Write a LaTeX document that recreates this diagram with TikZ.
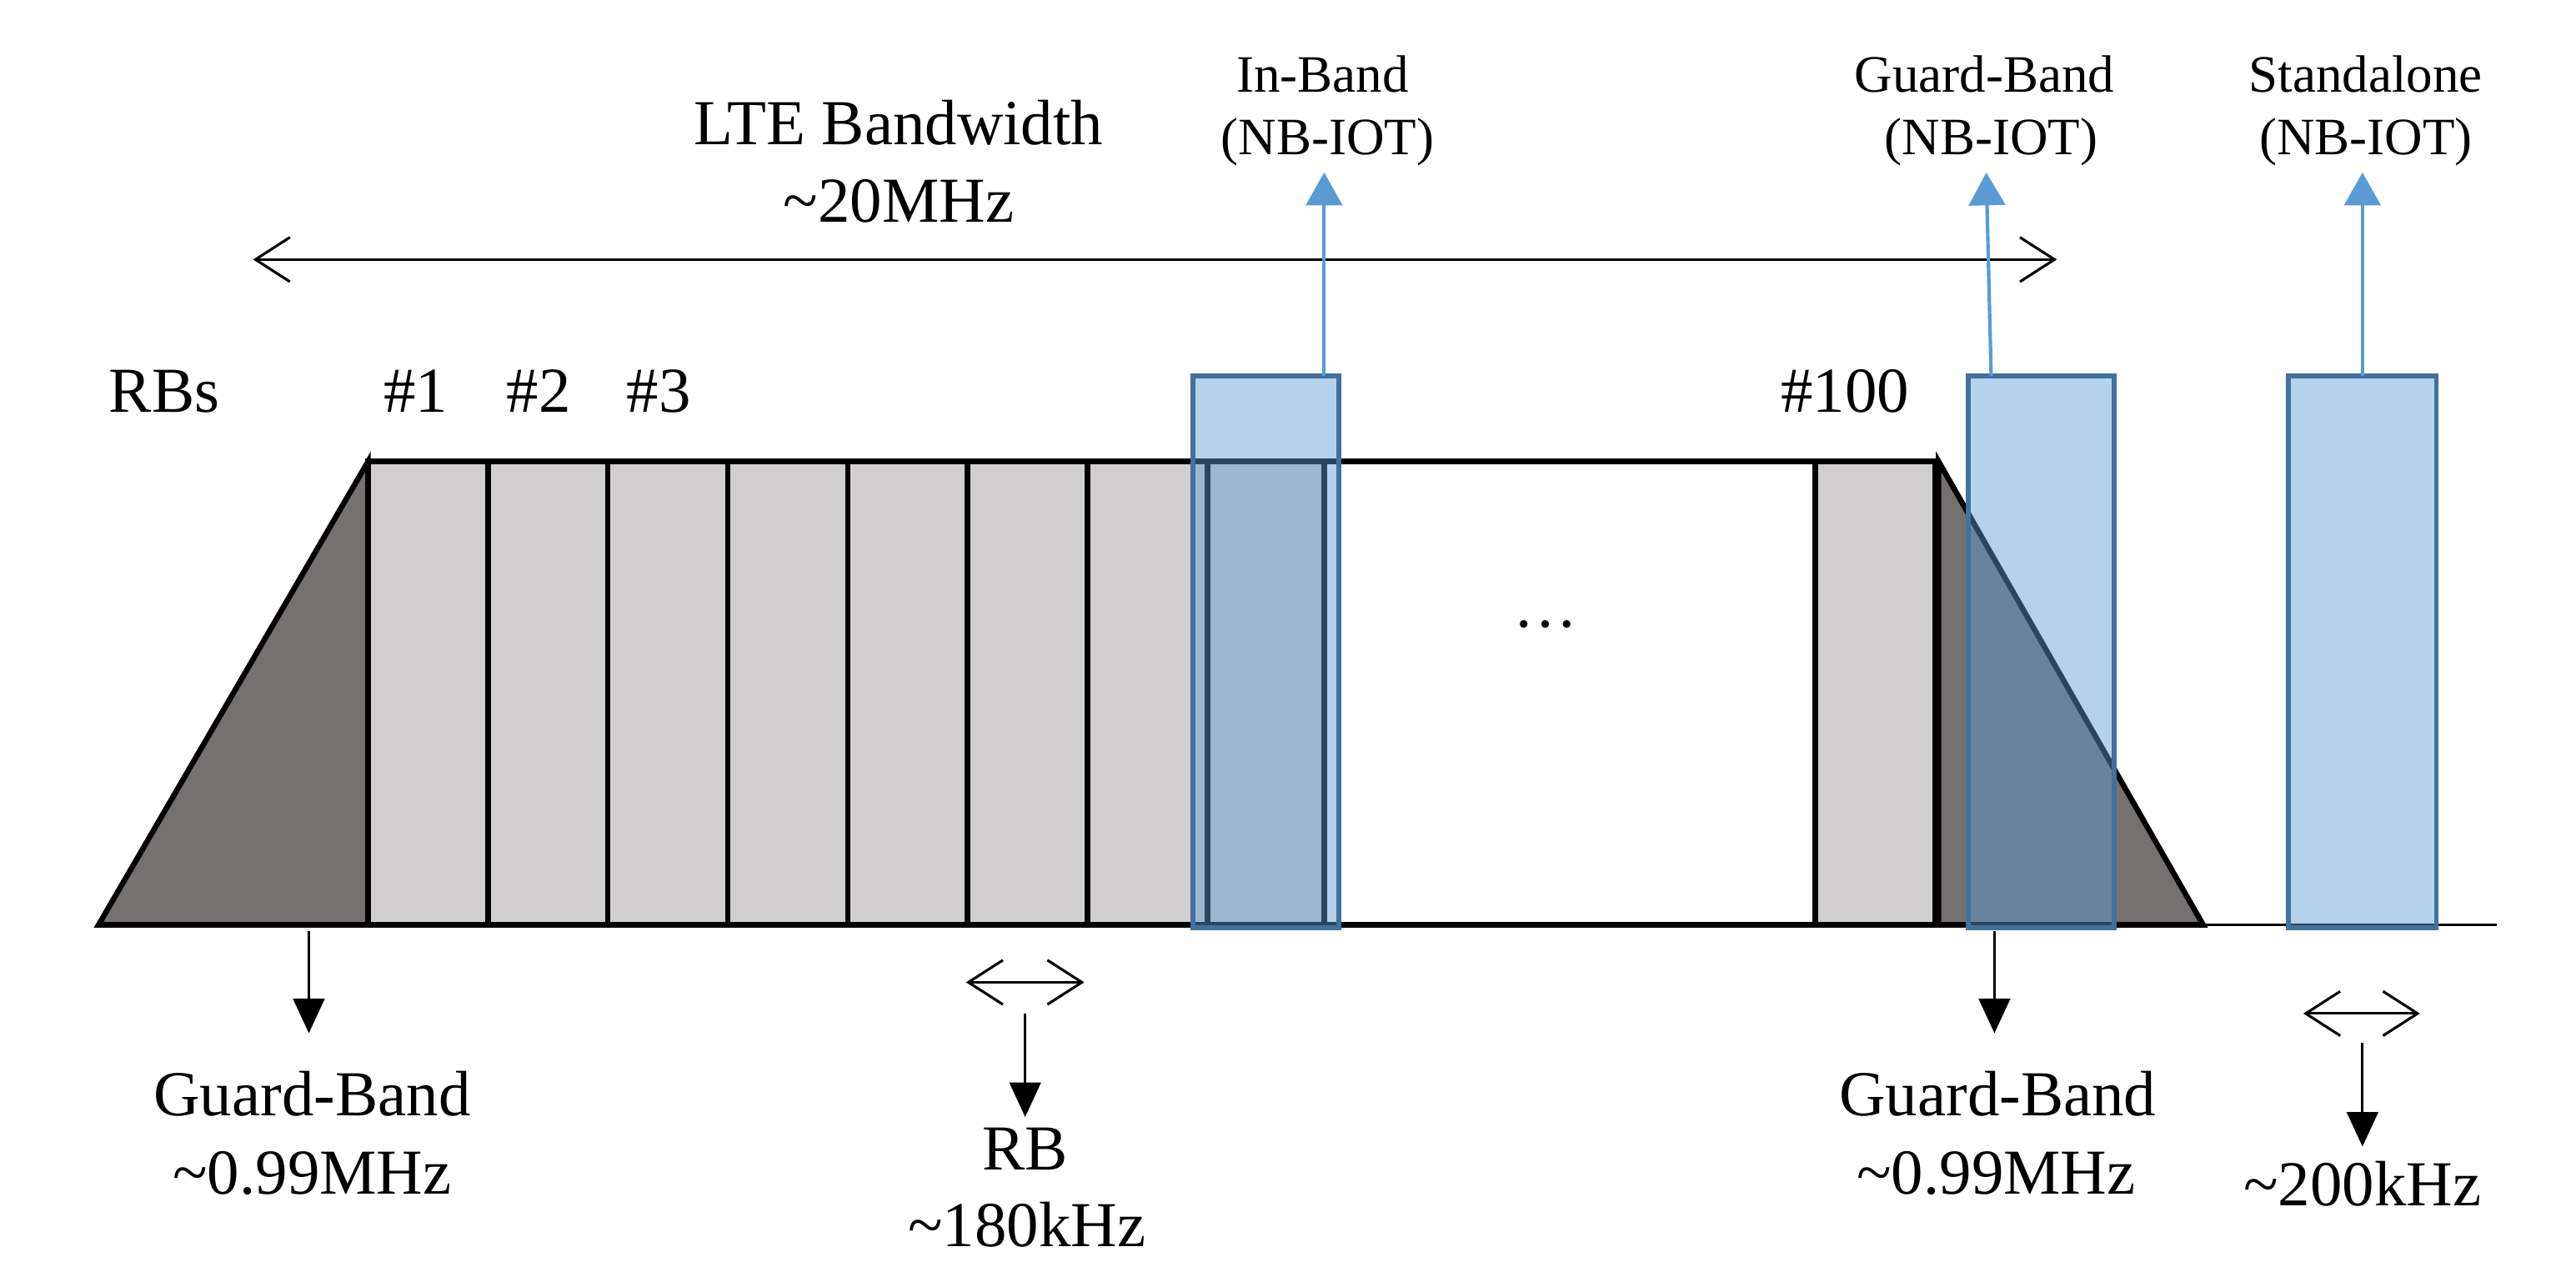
\documentclass[tikz,border=0pt]{standalone}
\usepackage{fontspec}
\setmainfont{Liberation Serif}
\usepackage{tikz}
\usetikzlibrary{arrows.meta}
\definecolor{rbgrey}{HTML}{D0CECE}
\definecolor{gbgrey}{HTML}{767171}
\definecolor{nbfill}{HTML}{5B9BD5}
\definecolor{nbline}{HTML}{41719C}

\begin{document}
\begin{tikzpicture}[x=1cm, y=1cm,
		big/.style={font=\fontsize{11.1}{13.3}\selectfont, inner sep=0pt, anchor=base},
		small/.style={font=\fontsize{9.1}{10.9}\selectfont, inner sep=0pt, anchor=base},
		rb/.style={draw, line width=0.95pt, fill=rbgrey},
		nb/.style={draw=nbline, line width=0.85pt, fill=nbfill, fill opacity=0.45},
		dblarr/.style={line width=0.45pt, {Straight Barb[length=2.1mm,width=2.7mm]}-{Straight Barb[length=2.1mm,width=2.7mm]}},
		downarr/.style={line width=0.45pt, -{Triangle[length=2.1mm,width=1.9mm]}},
		uparr/.style={nbfill, line width=0.6pt, -{Triangle[length=2mm,width=2.2mm]}}]
		\useasboundingbox (0,0) rectangle (15.68,7.68);
		\def\yb{2.05}  % bottom of the band
		\def\yt{4.87}  % top of the RBs
		\def\yn{5.39}  % top of the NB-IOT carriers
		%%% guard bands and axis
		\draw[line width=0.95pt, fill=gbgrey] (0.60,\yb) -- (2.24,\yt) -- (2.24,\yb) -- cycle;
		\draw[line width=0.95pt, fill=gbgrey] (11.80,\yt) -- (13.41,\yb) -- (11.80,\yb) -- cycle;
		\draw[line width=0.45pt] (13.41,\yb) -- (15.20,\yb);
		%%% resource blocks
		\foreach \i in {0,...,6}
			\draw[rb] ({2.24+0.73*\i},\yb) rectangle ++(0.73,{\yt-\yb});
		\draw[line width=0.95pt, fill=white] (7.35,\yb) rectangle (11.05,\yt);
		\draw[rb] (7.35,\yb) rectangle (8.06,\yt);
		\draw[rb] (11.05,\yb) rectangle (11.78,\yt);
		\node[big] (dots) at (9.41,3.86) {…};
		%%% NB-IOT carriers
		\draw[nb] (7.26,2.03) rectangle (8.15,\yn);
		\draw[nb] (11.98,2.03) rectangle (12.87,\yn);
		\draw[nb] (13.93,2.03) rectangle (14.83,\yn);
		%%% RB numbers
		\node[big] (rbs) at (1.00,5.17) {RBs};
		\node[big] (rb1) at (2.53,5.17) {\#1};
		\node[big] (rb2) at (3.28,5.17) {\#2};
		\node[big] (rb3) at (4.01,5.17) {\#3};
		\node[big] (rb100) at (11.23,5.17) {\#100};
		%%% LTE bandwidth
		\node[big] (lte) at (5.47,6.80) {LTE Bandwidth};
		\node[big] (lteval) at (5.47,6.33) {\textasciitilde20MHz};
		\coordinate (lteL) at (1.54,6.10);
		\coordinate (lteR) at (12.52,6.10);
		\draw[dblarr] (lteL) -- (lteR);
		%%% deployment modes
		\node[small] (inband) at (8.05,7.12) {In-Band};
		\node[small] (inbandnb) at (8.08,6.74) {(NB-IOT)};
		\node[small] (guard) at (12.08,7.12) {Guard-Band};
		\node[small] (guardnb) at (12.12,6.74) {(NB-IOT)};
		\node[small] (stand) at (14.40,7.12) {Standalone};
		\node[small] (standnb) at (14.40,6.74) {(NB-IOT)};
		\coordinate (ibbox) at (8.06,\yn);
		\coordinate (ibtip) at (8.06,6.63);
		\coordinate (gbbox) at (12.12,\yn);
		\coordinate (gbtip) at (12.09,6.63);
		\coordinate (sabox) at (14.38,\yn);
		\coordinate (satip) at (14.38,6.63);
		\draw[uparr] (ibbox) -- (ibtip);
		\draw[uparr] (gbbox) -- (gbtip);
		\draw[uparr] (sabox) -- (satip);
		%%% widths below the band
		\coordinate (gl0) at (1.88,2.01);
		\coordinate (gl1) at (1.88,1.39);
		\draw[downarr] (gl0) -- (gl1);
		\node[big] (glab) at (1.90,0.89) {Guard-Band};
		\node[big] (glabv) at (1.90,0.41) {\textasciitilde0.99MHz};
		\coordinate (rbL) at (5.88,1.70);
		\coordinate (rbR) at (6.60,1.70);
		\draw[dblarr] (rbL) -- (rbR);
		\coordinate (rb0) at (6.24,1.51);
		\coordinate (rbd) at (6.24,0.88);
		\draw[downarr] (rb0) -- (rbd);
		\node[big] (rblab) at (6.24,0.56) {RB};
		\node[big] (rblabv) at (6.25,0.09) {\textasciitilde180kHz};
		\coordinate (gr0) at (12.14,2.01);
		\coordinate (gr1) at (12.14,1.39);
		\draw[downarr] (gr0) -- (gr1);
		\node[big] (grlab) at (12.16,0.89) {Guard-Band};
		\node[big] (grlabv) at (12.15,0.41) {\textasciitilde0.99MHz};
		\coordinate (saL) at (14.02,1.51);
		\coordinate (saR) at (14.73,1.51);
		\draw[dblarr] (saL) -- (saR);
		\coordinate (sa0) at (14.38,1.33);
		\coordinate (sad) at (14.38,0.70);
		\draw[downarr] (sa0) -- (sad);
		\node[big] (salab) at (14.38,0.34) {\textasciitilde200kHz};
	\end{tikzpicture}
\end{document}
